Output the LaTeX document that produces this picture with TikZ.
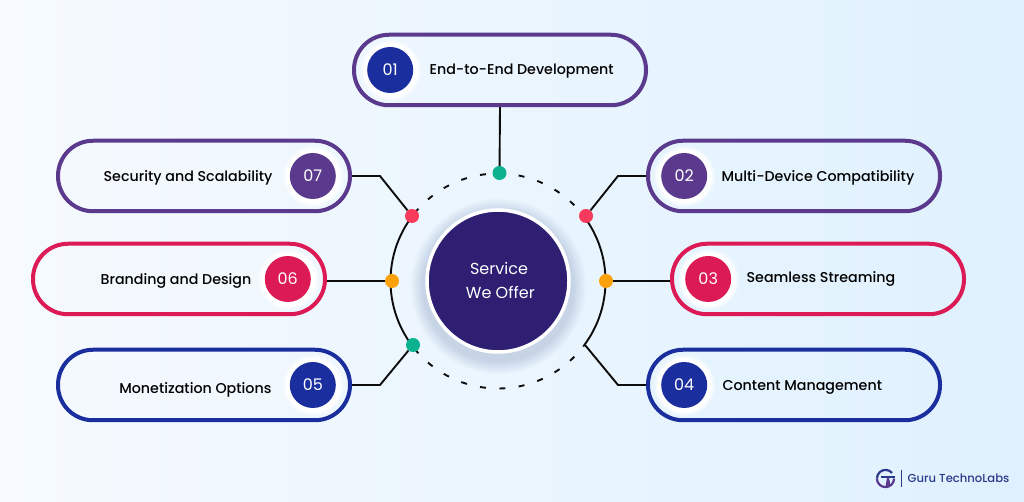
\documentclass[tikz,border=0pt]{standalone}
\usepackage{fontspec}
\setmainfont{Poppins Medium}
\newfontfamily\regfont{Poppins}
\usepackage{tikz}
\usetikzlibrary{positioning}
\usetikzlibrary{calc}
\usetikzlibrary{fadings}
\definecolor{plum}{HTML}{5B3A8E}
\definecolor{crimson}{HTML}{DC1A56}
\definecolor{navy}{HTML}{1A2E9E}
\definecolor{corefill}{HTML}{2E1F72}
\definecolor{dotgreen}{HTML}{0CB190}
\definecolor{dotred}{HTML}{F83B5D}
\definecolor{dotorange}{HTML}{FAA10C}
\definecolor{brandblue}{HTML}{2B3A8C}
\definecolor{bgleft}{HTML}{F6FAFE}
\definecolor{bgright}{HTML}{DFF1FE}
\definecolor{glowblue}{HTML}{C6D4E6}
\newcommand{\leftpill}[6]{
  \node(p#1)[pill,draw=#3] at (#2) {};
  \node(h#1)[halo,left=8pt of p#1.east] {};
  \node(b#1)[badge,fill=#3] at (h#1) {#1};
  \node(t#1)[item,left=#5pt of b#1,yshift=#6pt] {#4};
}
\newcommand{\rightpill}[7]{
  \node(p#1)[pill,draw=#3] at (#2) {};
  \node(h#1)[halo,right=7pt of p#1.west] {};
  \node(b#1)[badge,fill=#7] at (h#1) {#1};
  \node(t#1)[item,right=#5pt of b#1,yshift=#6pt] {#4};
}

\begin{document}
\begin{tikzpicture}[
    x=1pt,y=1pt,
    pill/.style={rectangle,minimum width=292pt,minimum height=70.5pt,
                 rounded corners=35pt,line width=4pt,inner sep=0pt},
    halo/.style={circle,minimum size=62pt,inner sep=0pt,fill=white,
                 path fading=circle with fuzzy edge 15 percent},
    badge/.style={circle,minimum size=46pt,inner sep=0pt,text=white,
                  font=\regfont\fontsize{16}{16}\selectfont},
    item/.style={inner sep=0pt,text height=11pt,text depth=3pt,text=black,
                 font=\fontsize{14.25}{16}\selectfont},
    spot/.style={circle,minimum size=14pt,inner sep=0pt},
    wire/.style={line width=1.9pt,black!95},
    gap/.style={wire,dash pattern=on 6pt off 13.4pt}
  ]
  \useasboundingbox (0,0) rectangle (1024,502);
  \fill[left color=bgleft,right color=bgright] (0,0) rectangle (1024,502);

  % centre
  \node(glow)[circle,minimum size=176pt,fill=glowblue,
              path fading=circle with fuzzy edge 15 percent] at (498,216) {};
  \node(core)[circle,minimum size=142pt,inner sep=0pt,fill=corefill,draw=white,line width=3.5pt] at (498,221) {};
  \node(coretext)[text=white,align=center,inner sep=0pt,font=\regfont\fontsize{16}{24}\selectfont] at (499,222) {Service\\[0pt]\,We Offer};

  % ring
  \draw[wire] ([shift={(143:107.5)}]core.center) arc[start angle=143,end angle=217,radius=107.5];
  \draw[wire] ([shift={(37:107.5)}]core.center) arc[start angle=37,end angle=-37,radius=107.5];
  \draw[gap] ([shift={(141:107.5)}]core.center) arc[start angle=141,end angle=37,radius=107.5];
  \draw[gap] ([shift={(219:107.5)}]core.center) arc[start angle=219,end angle=323,radius=107.5];

  % spots
  \node(d01)[spot,fill=dotgreen] at (499.5,329) {};
  \node(d02)[spot,fill=dotred] at (586,286) {};
  \node(d03)[spot,fill=dotorange] at (606,221) {};
  \coordinate(d04) at (585,157);
  \node(d05)[spot,fill=dotgreen] at (413,157) {};
  \node(d06)[spot,fill=dotorange] at (392,221) {};
  \node(d07)[spot,fill=dotred] at (412,286) {};

  % pills
  \rightpill{01}{500,432}{plum}{End-to-End Development}{16}{-1}{navy}
  \rightpill{02}{794,326}{plum}{Multi-Device Compatibility}{14}{-2}{plum}
  \rightpill{03}{818,223}{crimson}{Seamless Streaming}{15}{0}{crimson}
  \rightpill{04}{794,117}{navy}{Content Management}{15}{-2}{navy}
  \leftpill{05}{204,117}{navy}{Monetization Options}{18}{-5}
  \leftpill{06}{179,223}{crimson}{Branding and Design}{13}{-2}
  \leftpill{07}{204,326}{plum}{Security and Scalability}{17}{-2}

  % connectors
  \draw[wire] (p01.south) -- (d01);
  \draw[wire] (p02.west) -- ++(-28,0) -- (d02);
  \draw[wire] (p03.west |- d03) -- (d03);
  \draw[wire] (p04.west) -- ++(-28,0) -- (d04);
  \draw[wire] (p05.east) -- ++(28,0) -- (d05);
  \draw[wire] (p06.east |- d06) -- (d06);
  \draw[wire] (p07.east) -- ++(28,0) -- (d07);

  % brand
  \coordinate(logo) at (885.5,23.5);
  \draw[brandblue,line width=2.2pt] ([shift={(40:8.6)}]logo) arc[start angle=40,end angle=180,radius=8.6];
  \draw[plum,line width=2.2pt] ([shift={(180:8.6)}]logo) arc[start angle=180,end angle=360,radius=8.6];
  \draw[brandblue,line width=2pt] ($(logo)+(-5,1)$) -- ($(logo)+(9.5,1)$);
  \fill[plum] ($(logo)+(1.5,1)$) -- ($(logo)+(3.5,1)$) -- ($(logo)+(5,-7)$) -- ($(logo)+(0,-8)$) -- cycle;
  \draw[brandblue,line width=1.2pt] (901.5,15) -- (901.5,32);
  \node(brand)[anchor=west,inner sep=0pt,text=brandblue,font=\fontsize{11.6}{14}\selectfont] at (907.5,23.5) {Guru TechnoLabs};
\end{tikzpicture}
\end{document}
